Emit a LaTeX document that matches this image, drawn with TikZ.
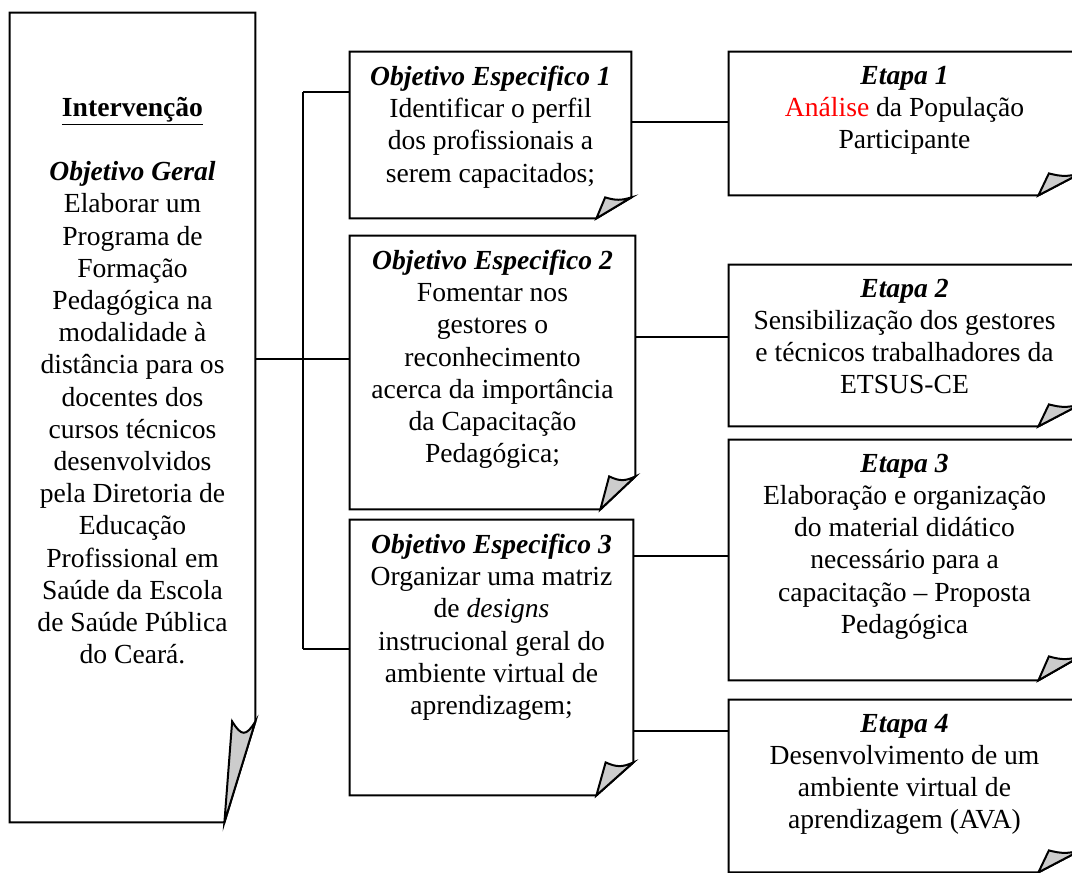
\documentclass[tikz,border=0pt]{standalone}
\usepackage{fontspec}
\setmainfont{Liberation Serif}
\usetikzlibrary{positioning,calc,fit}
\definecolor{foldgray}{gray}{0.8}
\tikzset{
  box/.style={inner sep=0pt, fit={#1}},
  txt/.style={align=center, inner sep=0pt, font=\fontsize{13.8}{16.1}\selectfont},
  frame/.style={line width=1pt, line join=miter},
}
% outline with turned-down corner: node, fold width, fold height
\newcommand{\foldframe}[3]{%
  \draw[frame] (#1.north west) -- (#1.north east) -- ($(#1.south east)+(0,-#3)$)
    -- ($(#1.south east)+(-#2,0)$) -- (#1.south west) -- cycle;
  \draw[frame, fill=foldgray] ($(#1.south east)+(0,-#3)$)
    .. controls +(-0.3*#2,0.15*#3) and +(0.3*#2,0.15*#3) .. ($(#1.south east)+(-0.75*#2,-#3)$)
    -- ($(#1.south east)+(-#2,0)$) -- cycle;
}
\begin{document}
\begin{tikzpicture}[x=0.5pt,y=-0.5pt]
\useasboundingbox (0,0) rectangle (1072,873);
\clip (0,0) rectangle (1072,873);

% boxes
\node[box={(10,13) (255,822)}] (main) {};
\node[box={(350,52) (631,218)}] (obj1) {};
\node[box={(350,236) (635,509)}] (obj2) {};
\node[box={(350,520) (633,795)}] (obj3) {};
\node[box={(729,52) (1080,195)}] (etapa1) {};
\node[box={(729,265) (1080,426)}] (etapa2) {};
\node[box={(729,440) (1080,680)}] (etapa3) {};
\node[box={(729,700) (1080,872)}] (etapa4) {};

\foldframe{main}{31}{101}
\foldframe{obj1}{35}{21}
\foldframe{obj2}{35}{33}
\foldframe{obj3}{37}{33}
\foldframe{etapa1}{42}{22}
\foldframe{etapa2}{42}{22}
\foldframe{etapa3}{42}{24}
\foldframe{etapa4}{42}{22}

% texts
\node[txt, below=42pt of main.north] (main-t) {\underline{\textbf{Intervenção}}\\[16.1pt]
  \textbf{\textit{Objetivo Geral}}\\ Elaborar um\\ Programa de\\ Formação\\ Pedagógica na\\
  modalidade à\\ distância para os\\ docentes dos\\ cursos técnicos\\ desenvolvidos\\
  pela Diretoria de\\ Educação\\ Profissional em\\ Saúde da Escola\\ de Saúde Pública\\ do Ceará.};
\node[txt, below=7pt of obj1.north] (obj1-t) {\textbf{\textit{Objetivo Especifico 1}}\\
  Identificar o perfil\\ dos profissionais a\\ serem capacitados;};
\node[txt, below=7pt of obj2.north] (obj2-t) {\textbf{\textit{Objetivo Especifico 2}}\\
  Fomentar nos\\ gestores o\\ reconhecimento\\ acerca da importância\\ da Capacitação\\ Pedagógica;};
\node[txt, below=7pt of obj3.north] (obj3-t) {\textbf{\textit{Objetivo Especifico 3}}\\
  Organizar uma matriz\\ de \textit{designs}\\ instrucional geral do\\ ambiente virtual de\\ aprendizagem;};
\node[txt, below=7pt of etapa1.north] (etapa1-t) {\textbf{\textit{Etapa 1}}\\
  \textcolor{red}{Análise} da População\\ Participante};
\node[txt, below=7pt of etapa2.north] (etapa2-t) {\textbf{\textit{Etapa 2}}\\
  Sensibilização dos gestores\\ e técnicos trabalhadores da\\ ETSUS-CE};
\node[txt, below=7pt of etapa3.north] (etapa3-t) {\textbf{\textit{Etapa 3}}\\
  Elaboração e organização\\ do material didático\\ necessário para a\\ capacitação – Proposta\\ Pedagógica};
\node[txt, below=7pt of etapa4.north] (etapa4-t) {\textbf{\textit{Etapa 4}}\\
  Desenvolvimento de um\\ ambiente virtual de\\ aprendizagem (AVA)};

% connectors
\coordinate (spine) at (303,359);
\coordinate (b1) at (303,92);
\coordinate (b3) at (303,649);
\coordinate (c1) at (680,122);
\coordinate (c2) at (680,337);
\coordinate (c3) at (680,556);
\coordinate (c4) at (680,731);
\draw[frame] (main.east |- spine) -- (obj2.west |- spine);
\draw[frame] (b1) -- (b3);
\draw[frame] (b1) -- (obj1.west |- b1);
\draw[frame] (b3) -- (obj3.west |- b3);
\draw[frame] (obj1.east |- c1) -- (etapa1.west |- c1);
\draw[frame] (obj2.east |- c2) -- (etapa2.west |- c2);
\draw[frame] (obj3.east |- c3) -- (etapa3.west |- c3);
\draw[frame] (obj3.east |- c4) -- (etapa4.west |- c4);
\end{tikzpicture}
\end{document}
